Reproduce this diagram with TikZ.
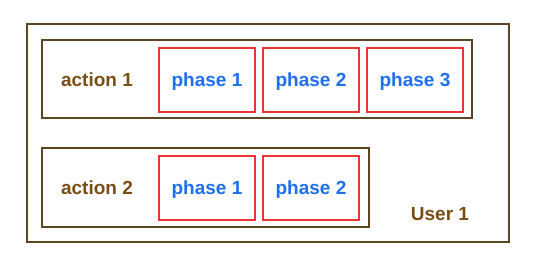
\documentclass[tikz,border=0pt]{standalone}
\usepackage{fontspec}
\setmainfont{Liberation Sans}
\usetikzlibrary{positioning}
\definecolor{frame}{HTML}{5C4522}
\definecolor{rust}{HTML}{7A4D14}
\definecolor{sky}{HTML}{1E6FEF}
\definecolor{alert}{HTML}{F03434}
\tikzset{
 holder/.style={draw=frame,line width=2pt,inner sep=0pt},
 phasebox/.style={draw=alert,line width=2pt,minimum width=96pt,minimum height=64pt,text depth=0pt,text=sky,font=\fontsize{19}{20}\selectfont\bfseries},
 tag/.style={text=rust,font=\fontsize{19}{20}\selectfont\bfseries}
}

\begin{document}
\begin{tikzpicture}[x=1pt,y=-1pt]
\useasboundingbox (0,0) rectangle (540,272);
% the user
\node[holder,minimum width=482pt,minimum height=218pt] (user) at (268,133) {};
\node[tag] (userlbl) at (440,214) {User 1};
% first action
\node[holder,minimum width=430pt,minimum height=78pt] (act1) at (257,79) {};
\node[tag] (act1lbl) at (97,80) {action 1};
\node[phasebox] (p11) at (207,80) {phase 1};
\node[phasebox,right=6pt of p11] (p12) {phase 2};
\node[phasebox,right=6pt of p12] (p13) {phase 3};
% second action
\node[holder,minimum width=327pt,minimum height=79pt] (act2) at (205.5,187.5) {};
\node[tag] (act2lbl) at (97,188) {action 2};
\node[phasebox] (p21) at (207,188) {phase 1};
\node[phasebox,right=6pt of p21] (p22) {phase 2};
\end{tikzpicture}
\end{document}
